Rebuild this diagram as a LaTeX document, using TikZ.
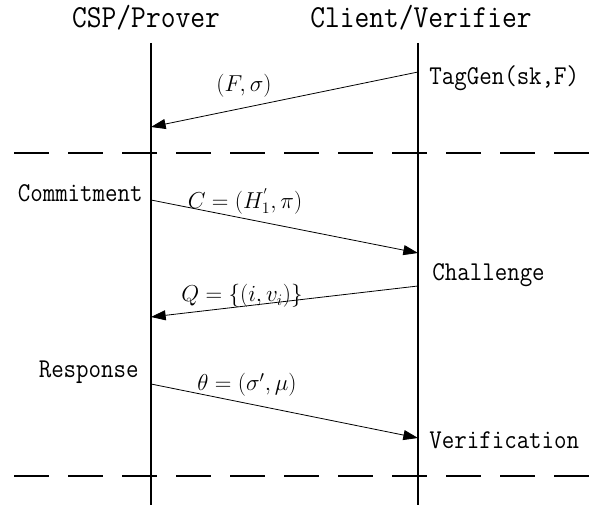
\documentclass[tikz,border=0pt]{standalone}
\usepackage{graphicx}
\usetikzlibrary{arrows.meta}

\newcommand{\tallmono}[1]{\scalebox{1}[1.12]{#1}}

\begin{document}
\begin{tikzpicture}[x=0.75pt, y=-0.75pt,
    lifeline/.style={line width=1.4pt},
    phase/.style={line width=1.4pt, dash pattern=on 26pt off 14.5pt},
    msg/.style={line width=0.6pt, -{Triangle[length=11pt, width=7.5pt]}},
    party/.style={font=\ttfamily\fontsize{21.5}{24}\selectfont, inner sep=0pt},
    act/.style={font=\ttfamily\fontsize{18.2}{21}\selectfont, inner sep=0pt},
    data/.style={font=\fontsize{17}{20}\selectfont, inner sep=0pt}]
    \useasboundingbox (0,0) rectangle (604,509);

    % lifelines
    \coordinate (pTop) at (151,43);
    \coordinate (pBot) at (151,505);
    \coordinate (vTop) at (418,43);
    \coordinate (vBot) at (418,505);
    \draw[lifeline] (pTop) -- (pBot);
    \draw[lifeline] (vTop) -- (vBot);

    \node[party] (prover) at (146,18) {\tallmono{CSP/Prover}};
    \node[party] (verifier) at (421,18) {\tallmono{Client/Verifier}};

    % phase separators
    \coordinate (sepAL) at (14,153);
    \coordinate (sepAR) at (597,153);
    \coordinate (sepBL) at (14,476);
    \coordinate (sepBR) at (597,476);
    \draw[phase] (sepAL) -- (sepAR);
    \draw[phase] (sepBL) -- (sepBR);

    % setup
    \node[act, anchor=west] (taggen) at (429,78) {\tallmono{TagGen(sk,F)}};
    \coordinate (tagFrom) at (418,72);
    \coordinate (tagTo) at (151,127);
    \draw[msg] (tagFrom) -- (tagTo);
    \node[data] (tagmsg) at (244,86) {$(F,\sigma)$};

    % commitment
    \node[act, anchor=east] (commit) at (143,193) {\tallmono{Commitment}};
    \coordinate (comFrom) at (151,200);
    \coordinate (comTo) at (418,253);
    \draw[msg] (comFrom) -- (comTo);
    \node[data] (commsg) at (245,201) {$C=(H^{'}_{1},\pi)$};

    % challenge
    \node[act, anchor=west] (chal) at (432,275) {\tallmono{Challenge}};
    \coordinate (chalFrom) at (418,286);
    \coordinate (chalTo) at (151,317);
    \draw[msg] (chalFrom) -- (chalTo);
    \node[data] (chalmsg) at (242,296) {$Q=\{(i,v_i)\}$};

    % response
    \node[act, anchor=east] (resp) at (139,372) {\tallmono{Response}};
    \coordinate (respFrom) at (151,384);
    \coordinate (respTo) at (418,438);
    \draw[msg] (respFrom) -- (respTo);
    \node[data] (respmsg) at (247,385) {$\theta=(\sigma',\mu)$};

    \node[act, anchor=west] (verif) at (429,440) {\tallmono{Verification}};
\end{tikzpicture}
\end{document}
